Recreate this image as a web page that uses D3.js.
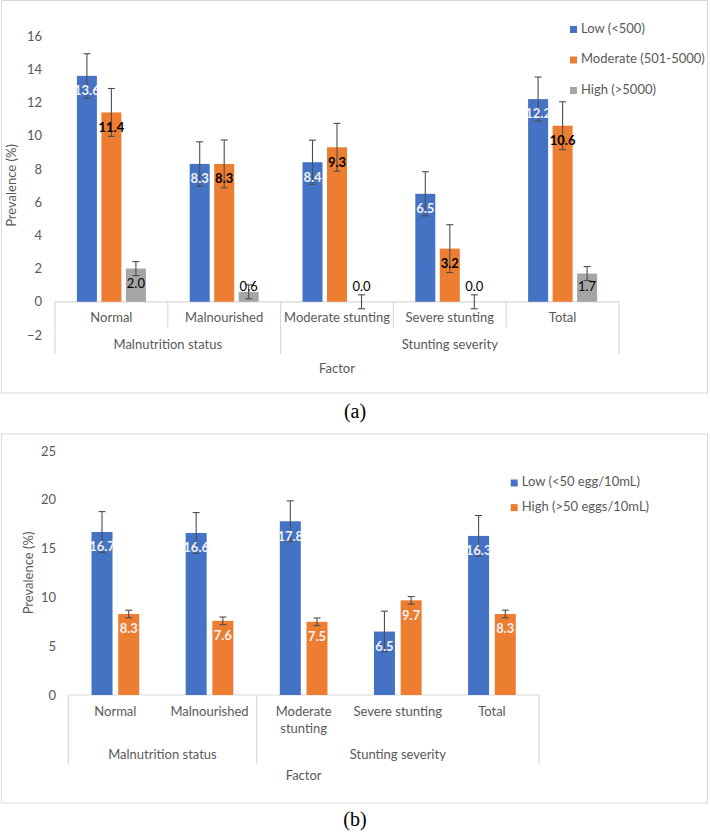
<!DOCTYPE html>
<html>
<head>
<meta charset="utf-8">
<script src="https://cdn.jsdelivr.net/npm/d3@7/dist/d3.min.js"></script>
<style>
  html, body { margin: 0; padding: 0; background: #fff; }
  svg { display: block; }
  text { font-family: Lato, "Open Sans", sans-serif; }
  text.letter { font-family: "Liberation Serif", "DejaVu Serif", serif; }
</style>
</head>
<body>
<svg id="chart" width="710" height="836"></svg>
<script>
// ---------- Data ----------
const categories = ["Normal", "Malnourished", "Moderate stunting", "Severe stunting", "Total"];
const groups = [
  { name: "Malnutrition status", from: 0, to: 1 },
  { name: "Stunting severity", from: 2, to: 4 }
];

// Panel (a)
const seriesA = ["Low (<500)", "Moderate (501-5000)", "High (>5000)"];
const lowA = [13.6, 8.3, 8.4, 6.5, 12.2];
const moderateA = [11.4, 8.3, 9.3, 3.2, 10.6];
const highA = [2.0, 0.6, 0.0, 0.0, 1.7];
const lowErrA = [1.33, 1.33, 1.33, 1.33, 1.33];
const moderateErrA = [1.44, 1.44, 1.44, 1.44, 1.44];
const highErrA = [0.42, 0.42, 0.42, 0.42, 0.42];
const ticksA = [-2, 0, 2, 4, 6, 8, 10, 12, 14, 16];

// Panel (b)
const seriesB = ["Low (<50 egg/10mL)", "High (>50 eggs/10mL)"];
const lowB = [16.7, 16.6, 17.8, 6.5, 16.3];
const highB = [8.3, 7.6, 7.5, 9.7, 8.3];
const lowErrB = [2.09, 2.09, 2.09, 2.09, 2.09];
const highErrB = [0.39, 0.39, 0.39, 0.39, 0.39];
const ticksB = [0, 5, 10, 15, 20, 25];
const categoryLinesB = [["Normal"], ["Malnourished"], ["Moderate", "stunting"], ["Severe stunting"], ["Total"]];

const colors = ["#4472C4", "#ED7D31", "#A5A5A5"];
const tickColor = "#595959";
const errColor = "#4d4d4d";

const svg = d3.select("#chart");

function drawPanel(cfg) {
  const g = svg.append("g");
  // chart border
  g.append("rect")
    .attr("x", cfg.box[0]).attr("y", cfg.box[1])
    .attr("width", cfg.box[2]).attr("height", cfg.box[3])
    .attr("fill", "#fff").attr("stroke", "#d9d9d9").attr("stroke-width", 1);

  const x = d3.scaleBand().domain(categories).range([cfg.plotX0, cfg.plotX1]).padding(0);
  const y = d3.scaleLinear().domain(cfg.yDomain).range([cfg.plotBottom, cfg.plotTop]);
  const bw = x.bandwidth();
  const n = cfg.series.length;

  // y ticks
  const yAxis = d3.axisLeft(y).tickValues(cfg.ticks).tickSize(0).tickPadding(0).tickFormat(d3.format("d"));
  const ya = g.append("g").attr("transform", `translate(${cfg.tickX},0)`).call(yAxis);
  ya.select(".domain").remove();
  ya.selectAll("text").attr("fill", tickColor).attr("font-size", 13);

  // y title
  g.append("text")
    .attr("transform", `translate(${cfg.yTitleX},${(cfg.plotTop + cfg.plotBottom) / 2}) rotate(-90)`)
    .attr("text-anchor", "middle").attr("dominant-baseline", "middle")
    .attr("fill", tickColor).attr("font-size", 13).text("Prevalence (%)");

  const y0 = y(0);
  // category axis line
  g.append("line").attr("x1", cfg.plotX0).attr("x2", cfg.plotX1)
    .attr("y1", y0).attr("y2", y0).attr("stroke", "#d9d9d9").attr("stroke-width", 1.2);

  // dividers
  const boundaries = d3.range(categories.length + 1);
  boundaries.forEach(i => {
    const xx = i < categories.length ? x(categories[i]) : cfg.plotX1;
    const isGroupEdge = i === 0 || i === categories.length || groups.some(gr => gr.from === i);
    if (!isGroupEdge && !cfg.innerTicks) return;
    g.append("line").attr("x1", xx).attr("x2", xx)
      .attr("y1", y0).attr("y2", isGroupEdge ? cfg.groupLineEnd : cfg.catLineEnd)
      .attr("stroke", "#d9d9d9").attr("stroke-width", 1.2);
  });

  // category labels
  categories.forEach((c, i) => {
    const lines = cfg.catLines ? cfg.catLines[i] : [c];
    const t = g.append("text").attr("x", x(c) + bw / 2).attr("y", cfg.catLabelY)
      .attr("text-anchor", "middle").attr("dominant-baseline", "middle")
      .attr("fill", tickColor).attr("font-size", 13);
    lines.forEach((ln, k) => t.append("tspan").attr("x", x(c) + bw / 2).attr("dy", k === 0 ? 0 : 16.6).text(ln));
  });
  // group labels
  groups.forEach(gr => {
    const gx0 = x(categories[gr.from]);
    const gx1 = gr.to + 1 < categories.length ? x(categories[gr.to + 1]) : cfg.plotX1;
    g.append("text").attr("x", (gx0 + gx1) / 2).attr("y", cfg.groupLabelY)
      .attr("text-anchor", "middle").attr("dominant-baseline", "middle")
      .attr("fill", tickColor).attr("font-size", 13).text(gr.name);
  });
  // x title
  g.append("text").attr("x", (cfg.plotX0 + cfg.plotX1) / 2).attr("y", cfg.xTitleY)
    .attr("text-anchor", "middle").attr("dominant-baseline", "middle")
    .attr("fill", tickColor).attr("font-size", 13).text("Factor");

  // bars
  const step = cfg.barW + cfg.barGap;
  cfg.values.forEach((vals, si) => {
    const off = (si - (n - 1) / 2) * step - cfg.barW / 2;
    const sg = g.append("g");
    sg.selectAll("rect").data(vals).join("rect")
      .attr("x", (d, i) => x(categories[i]) + bw / 2 + off)
      .attr("y", d => y(Math.max(d, 0)))
      .attr("width", cfg.barW)
      .attr("height", d => Math.abs(y(d) - y0))
      .attr("fill", colors[si]);
  });
  // error bars
  cfg.values.forEach((vals, si) => {
    const off = (si - (n - 1) / 2) * step;
    const errs = cfg.errors[si];
    vals.forEach((v, i) => {
      const cx = x(categories[i]) + bw / 2 + off;
      const yt = y(v + errs[i]), yb = y(v - errs[i]);
      g.append("line").attr("x1", cx).attr("x2", cx).attr("y1", yt).attr("y2", yb)
        .attr("stroke", errColor).attr("stroke-width", 1.1);
      [yt, yb].forEach(yy => g.append("line").attr("x1", cx - 3.5).attr("x2", cx + 3.5)
        .attr("y1", yy).attr("y2", yy).attr("stroke", errColor).attr("stroke-width", 1.1));
    });
  });
  // data labels
  cfg.values.forEach((vals, si) => {
    const off = (si - (n - 1) / 2) * step;
    const st = cfg.labelStyles[si];
    vals.forEach((v, i) => {
      const cx = x(categories[i]) + bw / 2 + off;
      const ly = Math.min(y(v) + 16, y0 - 14);
      g.append("text").attr("x", cx).attr("y", ly)
        .attr("text-anchor", "middle").attr("dominant-baseline", "middle")
        .attr("font-size", 13).attr("font-weight", st.weight).attr("fill", st.color)
        .text(d3.format(".1f")(v));
    });
  });

  // legend
  cfg.series.forEach((s, si) => {
    const ly = cfg.legendY + si * cfg.legendStep;
    g.append("rect").attr("x", cfg.legendX).attr("y", ly - 3.5).attr("width", 7).attr("height", 7).attr("fill", colors[si]);
    g.append("text").attr("x", cfg.legendX + 11).attr("y", ly)
      .attr("dominant-baseline", "middle").attr("fill", tickColor).attr("font-size", 13).text(s);
  });

  // panel letter
  g.append("text").attr("class", "letter").attr("x", 355).attr("y", cfg.letterY).attr("text-anchor", "middle")
    .attr("dominant-baseline", "middle")
    .attr("font-size", 20).attr("fill", "#000").text(cfg.letter);
}

drawPanel({
  box: [1.5, 0.5, 706, 392.5],
  plotX0: 55, plotX1: 619, plotTop: 36, plotBottom: 335,
  yDomain: [-2, 16], ticks: ticksA, tickX: 42, yTitleX: 13,
  catLabelY: 319, groupLabelY: 346, xTitleY: 370,
  catLineEnd: 327, groupLineEnd: 354, innerTicks: true,
  series: seriesA, values: [lowA, moderateA, highA], errors: [lowErrA, moderateErrA, highErrA],
  barW: 20, barGap: 4.5,
  labelStyles: [{ color: "#f2f2f2", weight: "bold" }, { color: "#000", weight: "bold" }, { color: "#000", weight: "normal" }],
  legendX: 570, legendY: 29.5, legendStep: 30.5,
  letter: "(a)", letterY: 413
});

drawPanel({
  box: [1.5, 434, 706, 369],
  plotX0: 68.3, plotX1: 539, plotTop: 451, plotBottom: 695,
  yDomain: [0, 25], ticks: ticksB, tickX: 56, yTitleX: 30,
  catLabelY: 713, groupLabelY: 756, xTitleY: 777,
  catLineEnd: 764, groupLineEnd: 764, innerTicks: false, catLines: categoryLinesB,
  series: seriesB, values: [lowB, highB], errors: [lowErrB, highErrB],
  barW: 21, barGap: 5.7,
  labelStyles: [{ color: "#f2f2f2", weight: "bold" }, { color: "#f2f2f2", weight: "bold" }],
  legendX: 510.7, legendY: 483, legendStep: 24.6,
  letter: "(b)", letterY: 821
});
</script>
</body>
</html>
